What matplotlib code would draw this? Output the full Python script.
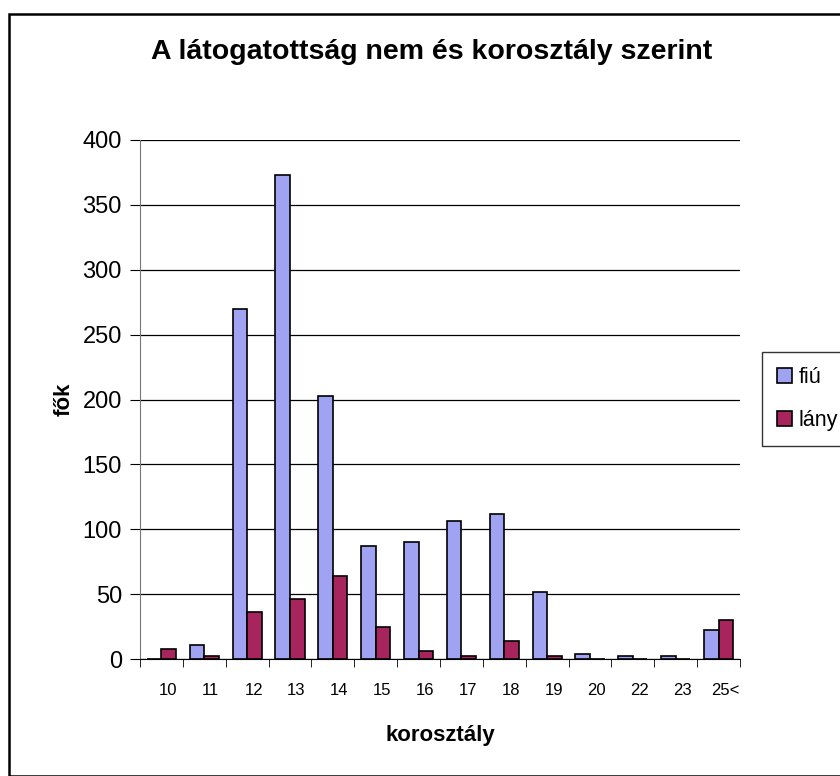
import numpy as np
import matplotlib.pyplot as plt
from matplotlib.patches import Rectangle

plt.rcParams['font.family'] = ['Liberation Sans', 'DejaVu Sans']

# Adatok
korosztaly = ['10', '11', '12', '13', '14', '15', '16', '17', '18', '19', '20', '22', '23', '25<']
fiu = [0, 11, 270, 373, 203, 87, 90, 106, 112, 52, 4, 2, 2, 22]
lany = [8, 2, 36, 46, 64, 25, 6, 2, 14, 2, 0, 0, 0, 30]

fig = plt.figure(figsize=(8.4, 7.76), dpi=100)
ax = fig.add_axes([140/840, 1-659/776, 600/840, 519/776])

x = np.arange(len(korosztaly))
w = 0.34
ax.bar(x - w/2, fiu, w, color='#9FA3F2', edgecolor='black', linewidth=1.2, label='fiú', zorder=3)
ax.bar(x + w/2, lany, w, color='#A8245C', edgecolor='black', linewidth=1.2, label='lány', zorder=3)

ax.set_xlim(-0.5, len(korosztaly) - 0.5)
ax.set_ylim(0, 400)
ax.set_yticks(range(0, 401, 50))
ax.tick_params(axis='y', labelsize=17, length=7, pad=6)
ax.set_xticks(x + 0.15)
ax.set_xticklabels(korosztaly, fontsize=12)
ax.tick_params(axis='x', length=0, pad=17)
ax.set_xticks(np.arange(-0.5, len(korosztaly), 1), minor=True)
ax.tick_params(axis='x', which='minor', length=6, direction='out')
ax.grid(axis='y', color='black', linewidth=0.9, zorder=0)
for s in ['top', 'right']:
    ax.spines[s].set_visible(False)
ax.spines['left'].set_color('#777777')

ax.set_xlabel('korosztály', fontsize=16, fontweight='bold', labelpad=20)
ax.set_ylabel('fők', fontsize=16, fontweight='bold', labelpad=6)
fig.text(432/840, 1-52/776, 'A látogatottság nem és korosztály szerint',
         ha='center', va='center', fontsize=20.5, fontweight='bold')

fig.legend(loc='upper left', bbox_to_anchor=(762/840, 1-352/776), borderaxespad=0,
           fontsize=15.5, frameon=True, fancybox=False, edgecolor='black',
           handlelength=0.7, handleheight=0.7, handletextpad=0.3, borderpad=0.7,
           labelspacing=1.0)

fig.patches.append(Rectangle((9/840, 0), 1, 1-14/776, transform=fig.transFigure,
                             fill=False, edgecolor='black', linewidth=1.8))

fig.savefig('out.png', dpi=100)
